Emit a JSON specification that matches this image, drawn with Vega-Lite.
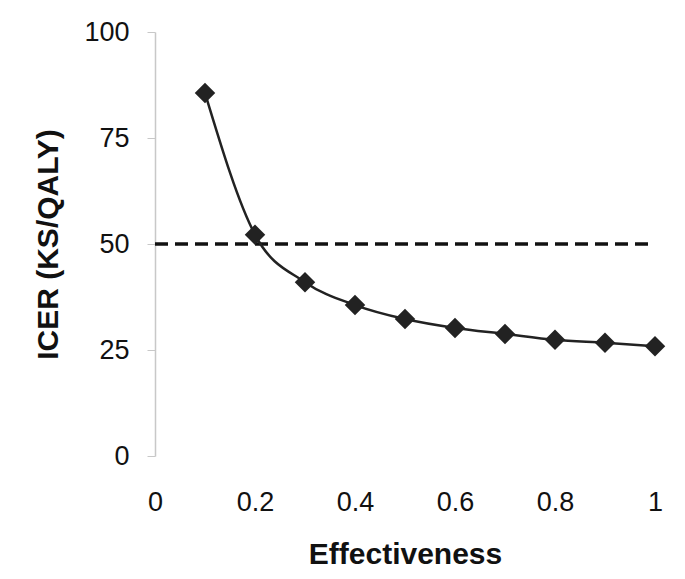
{
  "$schema": "https://vega.github.io/schema/vega-lite/v6.json",
  "width": 500,
  "height": 424,
  "autosize": "none",
  "padding": {"left": 155, "top": 32, "right": 30, "bottom": 123},
  "background": "white",
  "config": {
    "view": {"stroke": null},
    "axis": {"grid": false, "labelFont": "Liberation Sans", "titleFont": "Liberation Sans", "labelColor": "#111", "titleColor": "#111"}
  },
  "datasets": {
    "icer": [
      {"effectiveness": 0.1, "icer": 85.6},
      {"effectiveness": 0.2, "icer": 52.2},
      {"effectiveness": 0.3, "icer": 41.0},
      {"effectiveness": 0.4, "icer": 35.6},
      {"effectiveness": 0.5, "icer": 32.3},
      {"effectiveness": 0.6, "icer": 30.2},
      {"effectiveness": 0.7, "icer": 28.8},
      {"effectiveness": 0.8, "icer": 27.4},
      {"effectiveness": 0.9, "icer": 26.7},
      {"effectiveness": 1.0, "icer": 25.9}
    ],
    "threshold": [
      {"effectiveness": 0, "icer": 50},
      {"effectiveness": 1, "icer": 50}
    ]
  },
  "layer": [
    {
      "data": {"name": "threshold"},
      "mark": {"type": "line", "color": "#111", "strokeWidth": 3.5, "strokeDash": [13, 7]},
      "encoding": {
        "x": {"field": "effectiveness", "type": "quantitative"},
        "y": {"field": "icer", "type": "quantitative"}
      }
    },
    {
      "data": {"name": "icer"},
      "mark": {"type": "line", "color": "#222", "strokeWidth": 2.5, "interpolate": "monotone"},
      "encoding": {
        "x": {
          "field": "effectiveness",
          "type": "quantitative",
          "scale": {"domain": [0, 1], "nice": false},
          "axis": {
            "title": "Effectiveness",
            "values": [0, 0.2, 0.4, 0.6, 0.8, 1],
            "labelExpr": "datum.value == 0 || datum.value == 1 ? format(datum.value, 'd') : format(datum.value, '.1f')",
            "labelFlush": false,
            "domain": false,
            "ticks": false,
            "labelFontSize": 27,
            "labelPadding": 33,
            "titleFontSize": 30,
            "titleFontWeight": "bold",
            "titlePadding": 24
          }
        },
        "y": {
          "field": "icer",
          "type": "quantitative",
          "scale": {"domain": [0, 100], "nice": false},
          "axis": {
            "title": "ICER (KS/QALY)",
            "values": [0, 25, 50, 75, 100],
            "domainColor": "#c8c8c8",
            "domainWidth": 1.5,
            "tickColor": "#c8c8c8",
            "tickSize": 8,
            "labelFontSize": 27,
            "labelPadding": 18,
            "titleFontSize": 30,
            "titleFontWeight": "bold",
            "titlePadding": 20
          }
        }
      }
    },
    {
      "data": {"name": "icer"},
      "mark": {"type": "point", "shape": "diamond", "filled": true, "color": "#222", "size": 420, "opacity": 1},
      "encoding": {
        "x": {"field": "effectiveness", "type": "quantitative"},
        "y": {"field": "icer", "type": "quantitative"}
      }
    }
  ]
}
